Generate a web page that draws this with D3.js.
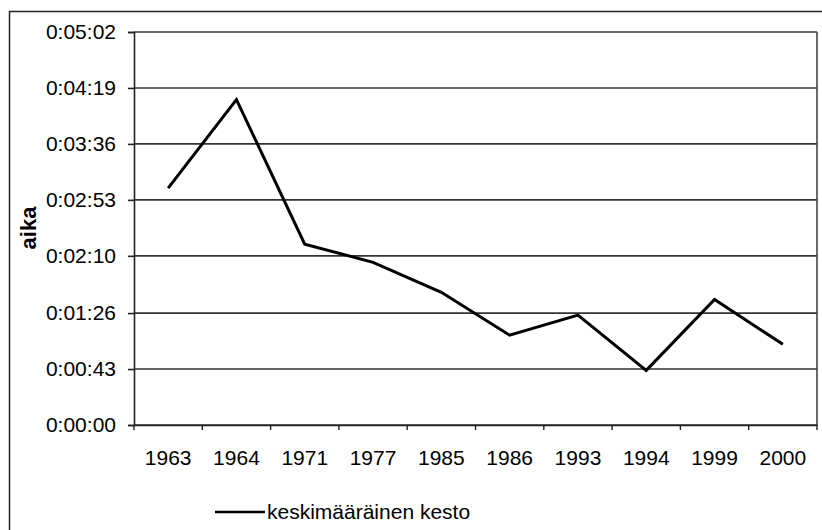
<!DOCTYPE html>
<html>
<head>
<meta charset="utf-8">
<script src="https://cdn.jsdelivr.net/npm/d3@7"></script>
<style>
  body { margin: 0; background: #fff; }
  text { font-family: "Liberation Sans", Arial, sans-serif; fill: #000; }
</style>
</head>
<body>
<svg></svg>
<script>
// data (seconds)
var years = ["1963", "1964", "1971", "1977", "1985", "1986", "1993", "1994", "1999", "2000"];
var duration = [182, 250, 139, 125, 102, 69, 84.5, 42, 96.5, 62];
var yTicks = [0, 43, 86, 130, 173, 216, 259, 302];
var seriesName = "keskimääräinen kesto";

var width = 822, height = 530;
var margin = {left: 134, right: 5, top: 32, bottom: 105};

var svg = d3.select("svg")
    .attr("width", width)
    .attr("height", height);

// outer chart frame
svg.append("rect")
    .attr("x", 9.5).attr("y", 11.5)
    .attr("width", width + 20).attr("height", height + 20)
    .attr("fill", "none")
    .attr("stroke", "#222")
    .attr("stroke-width", 1.5);

var x = d3.scaleBand()
    .domain(years)
    .range([margin.left, width - margin.right]);

var y = d3.scaleLinear()
    .domain([0, 302])
    .range([height - margin.bottom, margin.top]);

function fmt(s) {
    var m = Math.floor(s / 60), sec = Math.round(s - m * 60);
    return "0:0" + m + ":" + (sec < 10 ? "0" : "") + sec;
}

// gridlines
svg.append("g").selectAll("line")
    .data(yTicks)
    .enter()
    .append("line")
    .attr("x1", margin.left)
    .attr("x2", width - margin.right)
    .attr("y1", function(d) { return y(d); })
    .attr("y2", function(d) { return y(d); })
    .attr("stroke", "#333")
    .attr("stroke-width", 1.6);

// right border of plot
svg.append("line")
    .attr("x1", width - margin.right).attr("x2", width - margin.right)
    .attr("y1", margin.top).attr("y2", height - margin.bottom)
    .attr("stroke", "#444").attr("stroke-width", 1.6);

// y axis
var yAxis = svg.append("g")
    .attr("transform", "translate(" + margin.left + ",0)")
    .call(d3.axisLeft(y).tickValues(yTicks).tickFormat(fmt).tickSize(6).tickPadding(12));
yAxis.selectAll("text").style("font-size", "21px");
yAxis.selectAll("line, path").attr("stroke", "#222").attr("stroke-width", 1.6);

// x axis
var xAxis = svg.append("g")
    .attr("transform", "translate(0," + (height - margin.bottom) + ")")
    .call(d3.axisBottom(x).tickSize(0).tickPadding(25));
xAxis.selectAll("text").style("font-size", "21px");
xAxis.select("path").attr("stroke", "#222").attr("stroke-width", 1.6);

// category boundary ticks
xAxis.selectAll(".bound")
    .data(years.concat(["end"]))
    .enter()
    .append("line")
    .attr("class", "bound")
    .attr("x1", function(d, i) { return margin.left + i * x.step(); })
    .attr("x2", function(d, i) { return margin.left + i * x.step(); })
    .attr("y1", 0).attr("y2", 5)
    .attr("stroke", "#222").attr("stroke-width", 1.4);

// y label
svg.append("text")
    .attr("transform", "translate(36,228) rotate(-90)")
    .attr("text-anchor", "middle")
    .style("font-size", "22px")
    .style("font-weight", "bold")
    .text("aika");

// data line
var line = d3.line()
    .x(function(d, i) { return x(years[i]) + x.bandwidth() / 2; })
    .y(function(d) { return y(d); });

svg.append("path")
    .datum(duration)
    .attr("d", line)
    .attr("fill", "none")
    .attr("stroke", "#000")
    .attr("stroke-width", 3);

// legend
svg.append("line")
    .attr("x1", 215).attr("x2", 265)
    .attr("y1", 512).attr("y2", 512)
    .attr("stroke", "#000").attr("stroke-width", 2.5);
svg.append("text")
    .attr("x", 267).attr("y", 519)
    .style("font-size", "21px")
    .text(seriesName);
</script>
</body>
</html>
